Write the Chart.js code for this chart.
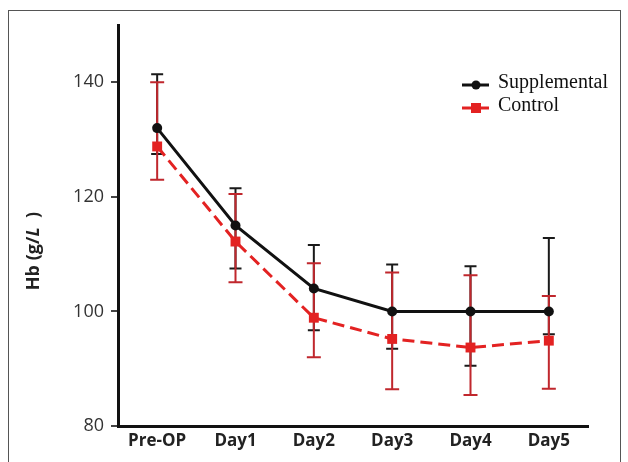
<!DOCTYPE html>
<html>
<head>
<meta charset="utf-8">
<script src="https://cdn.jsdelivr.net/npm/chart.js@4/dist/chart.umd.min.js"></script>
<style>
    html, body { margin: 0; padding: 0; background: #fff; }
    #wrap { position: relative; width: 628px; height: 462px; overflow: hidden; }
    #frame { position: absolute; left: 8px; top: 10px; width: 611px; height: 480px; border: 1px solid #555; }
    canvas { position: absolute; left: 0; top: 0; }
</style>
</head>
<body>
<div id="wrap">
    <div id="frame"></div>
    <canvas id="chartHb" width="628" height="462"></canvas>
</div>
<script>
// Hb over time, mean with error bars

const days = ["Pre-OP", "Day1", "Day2", "Day3", "Day4", "Day5"];
const yTicks = [80, 100, 120, 140];

const suppMean = [132, 115, 104, 100, 100, 100];
const suppHigh = [141.4, 121.5, 111.6, 108.2, 107.9, 112.8];
const suppLow = [127.5, 107.5, 96.7, 93.5, 90.5, 96.0];

const ctrlMean = [128.8, 112.2, 98.9, 95.2, 93.7, 94.9];
const ctrlHigh = [140.0, 120.5, 108.4, 106.8, 106.3, 102.7];
const ctrlLow = [123.0, 105.1, 92.0, 86.4, 85.4, 86.5];

// error bars, drawn under the lines
const errorBars = {
    id: "errorBars",
    beforeDatasetsDraw(chart) {
        const ctx = chart.ctx;
        const y = chart.scales.y;
        // supplemental first, control on top of it
        [0, 1].forEach((i) => {
            const ds = chart.data.datasets[i];
            const meta = chart.getDatasetMeta(i);
            ctx.save();
            ctx.strokeStyle = ds.errColor;
            ctx.lineWidth = 2;
            meta.data.forEach((pt, j) => {
                const x = pt.x;
                const top = y.getPixelForValue(ds.high[j]);
                const bot = y.getPixelForValue(ds.low[j]);
                const cap = ds.capWidth / 2;
                ctx.beginPath();
                ctx.moveTo(x, top);
                ctx.lineTo(x, bot);
                ctx.moveTo(x - cap, top);
                ctx.lineTo(x + cap, top);
                ctx.moveTo(x - cap, bot);
                ctx.lineTo(x + cap, bot);
                ctx.stroke();
            });
            ctx.restore();
        });
    },
};

// legend in the corner + y title with italic L
const extras = {
    id: "extras",
    afterDraw(chart) {
        const ctx = chart.ctx;
        ctx.save();

        // legend
        const items = [
            { text: "Supplemental", color: "#111", y: 85, shape: "circle" },
            { text: "Control", color: "#e32222", y: 108, shape: "rect" },
        ];
        items.forEach((it) => {
            ctx.strokeStyle = it.color;
            ctx.fillStyle = it.color;
            ctx.lineWidth = 3;
            ctx.beginPath();
            ctx.moveTo(462, it.y);
            ctx.lineTo(489, it.y);
            ctx.stroke();
            ctx.beginPath();
            if (it.shape === "circle") {
                ctx.arc(476, it.y, 4.5, 0, Math.PI * 2);
            } else {
                ctx.rect(471, it.y - 5, 10, 10);
            }
            ctx.fill();
            ctx.fillStyle = "#111";
            ctx.font = "20px 'Liberation Serif'";
            ctx.textBaseline = "alphabetic";
            ctx.fillText(it.text, 498, it.y + 3);
        });

        // y axis title
        const parts = [
            { t: "Hb (g/", f: "bold 18px 'Open Sans'" },
            { t: "L", f: "italic bold 18px 'Open Sans'" },
            { t: "  )", f: "bold 18px 'Open Sans'" },
        ];
        let total = 0;
        parts.forEach((p) => { ctx.font = p.f; total += ctx.measureText(p.t).width; });
        ctx.translate(34, 251);
        ctx.rotate(-Math.PI / 2);
        ctx.fillStyle = "#222";
        ctx.textBaseline = "middle";
        let x = -total / 2;
        parts.forEach((p) => {
            ctx.font = p.f;
            ctx.fillText(p.t, x, 0);
            x += ctx.measureText(p.t).width;
        });
        ctx.restore();
    },
};

const config = {
    type: "line",
    data: {
        labels: days,
        datasets: [
            {
                label: "Supplemental",
                data: suppMean,
                high: suppHigh,
                low: suppLow,
                errColor: "#1a1a1a",
                capWidth: 12,
                borderColor: "#111",
                backgroundColor: "#111",
                borderWidth: 3,
                pointStyle: "circle",
                pointRadius: 5,
                pointBorderWidth: 0,
                tension: 0,
            },
            {
                label: "Control",
                data: ctrlMean,
                high: ctrlHigh,
                low: ctrlLow,
                errColor: "#c0272d",
                capWidth: 14,
                borderColor: "#e32222",
                backgroundColor: "#e32222",
                borderWidth: 3,
                borderDash: [12, 6],
                pointStyle: "rect",
                pointRadius: 7,
                pointBorderWidth: 0,
                tension: 0,
            },
        ],
    },
    options: {
        responsive: false,
        animation: false,
        layout: { padding: { top: 25, right: 40, left: 0, bottom: 0 } },
        plugins: {
            legend: { display: false },
            tooltip: { enabled: false },
        },
        scales: {
            x: {
                offset: true,
                grid: { display: false, drawTicks: false },
                border: { color: "#111", width: 3 },
                ticks: {
                    color: "#222",
                    padding: 5,
                    font: { family: "'Open Sans'", size: 17, weight: "bold" },
                },
                afterFit: (s) => { s.height = 36; },
            },
            y: {
                min: 80,
                max: 150,
                grid: { drawOnChartArea: false, drawTicks: true, tickLength: 7, color: "#444", lineWidth: 2 },
                border: { color: "#111", width: 3 },
                ticks: {
                    color: "#333",
                    padding: 7,
                    font: { family: "'Open Sans'", size: 18 },
                },
                afterBuildTicks: (s) => { s.ticks = yTicks.map((v) => ({ value: v })); },
                afterFit: (s) => { s.width = 118; },
            },
        },
    },
    plugins: [errorBars, extras],
};

let lineGraph = new Chart(document.getElementById("chartHb"), config);
</script>
</body>
</html>
